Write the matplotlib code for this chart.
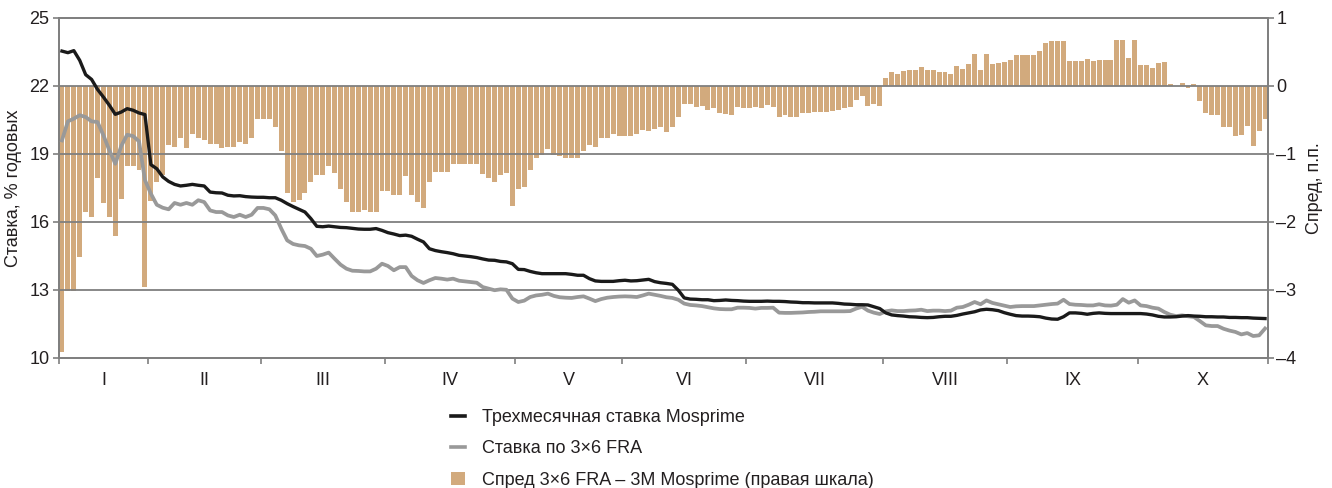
import numpy as np
import matplotlib
matplotlib.use("Agg")
import matplotlib.pyplot as plt
from matplotlib.lines import Line2D
from matplotlib.patches import Patch

# ---------------- data ----------------
months = ["I", "II", "III", "IV", "V", "VI", "VII", "VIII", "IX", "X"]
days_per_month = [15, 19, 21, 22, 18, 21, 23, 21, 22, 22]

mosprime = [
    # I
    23.54, 23.47, 23.56, 23.13, 22.50, 22.29, 21.85, 21.51, 21.15, 20.75, 20.85, 21.00, 20.93, 20.81, 20.74,
    # II
    18.53, 18.35, 17.99, 17.79, 17.66, 17.59, 17.62, 17.66, 17.62, 17.59, 17.32, 17.29, 17.28, 17.18, 17.15,
    17.16, 17.12, 17.10, 17.09,
    # III
    17.09, 17.07, 17.07, 16.96, 16.81, 16.68, 16.56, 16.44, 16.15, 15.81, 15.79, 15.82, 15.79, 15.76, 15.75,
    15.72, 15.69, 15.68, 15.68, 15.71, 15.63,
    # IV
    15.53, 15.47, 15.40, 15.42, 15.37, 15.24, 15.12, 14.82, 14.74, 14.69, 14.65, 14.60, 14.53, 14.50, 14.47,
    14.43, 14.37, 14.32, 14.31, 14.26, 14.24, 14.16,
    # V
    13.91, 13.90, 13.82, 13.76, 13.72, 13.72, 13.72, 13.72, 13.72, 13.69, 13.65, 13.65, 13.50, 13.40, 13.38,
    13.38, 13.38, 13.41,
    # VI
    13.43, 13.40, 13.41, 13.44, 13.47, 13.37, 13.32, 13.29, 13.25, 12.99, 12.65, 12.60, 12.59, 12.57, 12.57,
    12.53, 12.54, 12.56, 12.54, 12.53, 12.51,
    # VII
    12.50, 12.50, 12.50, 12.51, 12.50, 12.50, 12.49, 12.47, 12.46, 12.44, 12.44, 12.43, 12.43, 12.43, 12.43,
    12.41, 12.38, 12.37, 12.35, 12.35, 12.34, 12.26, 12.18,
    # VIII
    11.99, 11.90, 11.87, 11.85, 11.82, 11.81, 11.79, 11.78, 11.79, 11.82, 11.84, 11.84, 11.88, 11.94, 11.99,
    12.04, 12.12, 12.15, 12.13, 12.09, 12.00,
    # IX
    11.93, 11.87, 11.85, 11.85, 11.84, 11.82, 11.76, 11.72, 11.71, 11.82, 11.99, 11.99, 11.97, 11.93, 11.97,
    11.99, 11.97, 11.96, 11.96, 11.96, 11.96, 11.96,
    # X
    11.96, 11.94, 11.90, 11.84, 11.81, 11.81, 11.82, 11.85, 11.87, 11.85, 11.84, 11.82, 11.82, 11.81, 11.81,
    11.79, 11.79, 11.78, 11.78, 11.76, 11.75, 11.74,
]

fra = [
    # I
    19.60, 20.44, 20.56, 20.71, 20.63, 20.44, 20.41, 19.82, 19.16, 18.57, 19.35, 19.85, 19.79, 19.56, 17.85,
    # II
    17.25, 16.76, 16.63, 16.56, 16.84, 16.76, 16.84, 16.76, 16.96, 16.88, 16.51, 16.44, 16.44, 16.29, 16.22,
    16.32, 16.22, 16.32, 16.62,
    # III
    16.62, 16.56, 16.29, 15.71, 15.19, 15.03, 14.97, 14.94, 14.82, 14.50, 14.56, 14.65, 14.38, 14.12, 13.94,
    13.85, 13.84, 13.82, 13.82, 13.94, 14.16,
    # IV
    14.06, 13.87, 14.01, 14.01, 13.62, 13.43, 13.31, 13.43, 13.53, 13.50, 13.46, 13.50, 13.41, 13.38, 13.35,
    13.32, 13.13, 13.06, 12.99, 13.03, 13.01, 12.62,
    # V
    12.47, 12.53, 12.69, 12.76, 12.79, 12.84, 12.74, 12.68, 12.66, 12.65, 12.69, 12.72, 12.62, 12.51, 12.60,
    12.66, 12.69, 12.71,
    # VI
    12.72, 12.71, 12.69, 12.76, 12.84, 12.79, 12.74, 12.68, 12.65, 12.57, 12.40, 12.34, 12.32, 12.29, 12.24,
    12.19, 12.16, 12.15, 12.15, 12.22, 12.22,
    # VII
    12.21, 12.18, 12.21, 12.21, 12.22, 12.00, 11.99, 11.99, 12.00, 12.01, 12.03, 12.04, 12.06, 12.06, 12.06,
    12.06, 12.06, 12.07, 12.18, 12.26, 12.09, 12.00, 11.94,
    # VIII
    12.06, 12.10, 12.07, 12.07, 12.09, 12.10, 12.13, 12.07, 12.09, 12.09, 12.07, 12.09, 12.22, 12.25, 12.35,
    12.47, 12.37, 12.54, 12.43, 12.37, 12.31,
    # IX
    12.25, 12.28, 12.29, 12.29, 12.29, 12.32, 12.35, 12.38, 12.40, 12.57, 12.38, 12.35, 12.34, 12.32, 12.32,
    12.37, 12.32, 12.31, 12.35, 12.60, 12.44, 12.54,
    # X
    12.32, 12.29, 12.22, 12.18, 12.03, 11.91, 11.85, 11.88, 11.84, 11.81, 11.63, 11.44, 11.41, 11.41, 11.29,
    11.21, 11.15, 11.04, 11.10, 10.97, 11.00, 11.30,
]

spread = [
    # I
    -3.91, -3.02, -3.02, -2.51, -1.86, -1.92, -1.36, -1.72, -1.92, -2.20, -1.66, -1.17, -1.17, -1.23, -2.96,
    # II
    -1.69, -1.41, -1.31, -0.87, -0.89, -0.76, -0.91, -0.71, -0.76, -0.80, -0.86, -0.86, -0.91, -0.90, -0.90,
    -0.82, -0.86, -0.76, -0.48,
    # III
    -0.48, -0.48, -0.61, -0.95, -1.58, -1.71, -1.67, -1.58, -1.41, -1.31, -1.31, -1.17, -1.28, -1.51, -1.71,
    -1.86, -1.86, -1.83, -1.86, -1.85, -1.55,
    # IV
    -1.55, -1.60, -1.60, -1.33, -1.60, -1.70, -1.80, -1.41, -1.26, -1.26, -1.26, -1.15, -1.15, -1.15, -1.15,
    -1.15, -1.29, -1.36, -1.41, -1.31, -1.28, -1.76,
    # V
    -1.51, -1.49, -1.24, -1.06, -1.01, -0.92, -1.02, -1.03, -1.06, -1.06, -1.06, -0.95, -0.87, -0.90, -0.76,
    -0.76, -0.70, -0.74,
    # VI
    -0.74, -0.74, -0.70, -0.65, -0.66, -0.63, -0.61, -0.67, -0.61, -0.46, -0.26, -0.26, -0.31, -0.29, -0.36,
    -0.32, -0.39, -0.41, -0.42, -0.31, -0.33,
    # VII
    -0.32, -0.31, -0.32, -0.28, -0.31, -0.46, -0.43, -0.46, -0.45, -0.40, -0.40, -0.38, -0.38, -0.38, -0.37,
    -0.35, -0.33, -0.31, -0.20, -0.14, -0.29, -0.26, -0.29,
    # VIII
    0.12, 0.21, 0.17, 0.22, 0.24, 0.24, 0.28, 0.23, 0.23, 0.20, 0.20, 0.18, 0.29, 0.25, 0.32,
    0.47, 0.23, 0.47, 0.32, 0.34, 0.35,
    # IX
    0.38, 0.45, 0.45, 0.45, 0.45, 0.51, 0.63, 0.66, 0.66, 0.66, 0.37, 0.37, 0.37, 0.39, 0.37,
    0.38, 0.38, 0.38, 0.67, 0.67, 0.41, 0.67,
    # X
    0.31, 0.31, 0.26, 0.34, 0.35, 0.03, 0.00, 0.05, -0.03, 0.03, -0.22, -0.40, -0.42, -0.42, -0.61,
    -0.60, -0.73, -0.72, -0.59, -0.88, -0.66, -0.49,
]

left_ticks = [10, 13, 16, 19, 22, 25]
right_ticks = [-4, -3, -2, -1, 0, 1]

label_mos = "Трехмесячная ставка Mosprime"
label_fra = "Ставка по 3×6 FRA"
label_spread = "Спред 3×6 FRA – 3M Mosprime (правая шкала)"
ylabel_left = "Ставка, % годовых"
ylabel_right = "Спред, п.п."

# ---------------- style ----------------
plt.rcParams["font.family"] = ["Liberation Sans", "DejaVu Sans"]
FS = 13
text_color = "#231f20"
axis_color = "#7f7f7f"
bar_color = "#D2AA7D"
black = "#1a1a1a"
gray = "#999999"

W, H = 1332, 488
fig = plt.figure(figsize=(W / 100, H / 100), dpi=100)
x0, x1, y0, y1 = 59, 1268, 18, 358
ax = fig.add_axes([x0 / W, 1 - y1 / H, (x1 - x0) / W, (y1 - y0) / H])
ax2 = ax.twinx()

n = len(mosprime)
x = np.arange(n)

ax2.bar(x, spread, width=0.84, color=bar_color, linewidth=0)
ax2.set_ylim(-4, 1)
ax.set_ylim(10, 25)
ax.set_xlim(-0.5, n - 0.5)

ax.set_zorder(ax2.get_zorder() + 1)
ax.patch.set_visible(False)

for v in left_ticks[1:-1]:
    ax.axhline(v, color=axis_color, lw=1.3, zorder=1)

ax.plot(x, fra, color=gray, lw=2.7, solid_joinstyle="round", zorder=3)
ax.plot(x, mosprime, color=black, lw=2.4, solid_joinstyle="round", zorder=4)

# axes / spines
for a in (ax, ax2):
    for s in a.spines.values():
        s.set_color(axis_color)
        s.set_linewidth(1.3)

ax.set_yticks(left_ticks)
ax.set_yticklabels([str(v) for v in left_ticks])
ax2.set_yticks(right_ticks)
ax2.set_yticklabels([str(v).replace("-", "\u2013") for v in right_ticks])
ax.tick_params(axis="y", length=4, width=1.2, color=axis_color, labelsize=FS,
               labelcolor=text_color, pad=3)
ax2.tick_params(axis="y", length=4, width=1.2, color=axis_color, labelsize=FS,
                labelcolor=text_color, pad=2)

bounds = np.concatenate([[0], np.cumsum(days_per_month)]) - 0.5
centers = (bounds[:-1] + bounds[1:]) / 2
ax.set_xticks(bounds)
ax.set_xticklabels([])
ax.set_xticks(centers, minor=True)
ax.set_xticklabels(months, minor=True)
ax.tick_params(axis="x", which="major", length=4, width=1.2, color=axis_color)
ax.tick_params(axis="x", which="minor", length=0, labelsize=FS, labelcolor=text_color, pad=10)

ax.set_ylabel(ylabel_left, fontsize=FS, color=text_color, labelpad=5)
ax2.set_ylabel(ylabel_right, fontsize=FS, color=text_color, labelpad=7)

handles = [
    Line2D([0], [0], color=black, lw=2.6),
    Line2D([0], [0], color=gray, lw=2.6),
    Patch(facecolor=bar_color, edgecolor="none"),
]
fig.legend(handles, [label_mos, label_fra, label_spread],
           loc="upper left", bbox_to_anchor=(451 / W, 1 - 409 / H),
           frameon=False, fontsize=FS, handlelength=0.75, handleheight=0.8,
           handletextpad=0.95, labelspacing=0.78, borderpad=0, borderaxespad=0,
           labelcolor=text_color)

fig.savefig("out.png", dpi=100)
